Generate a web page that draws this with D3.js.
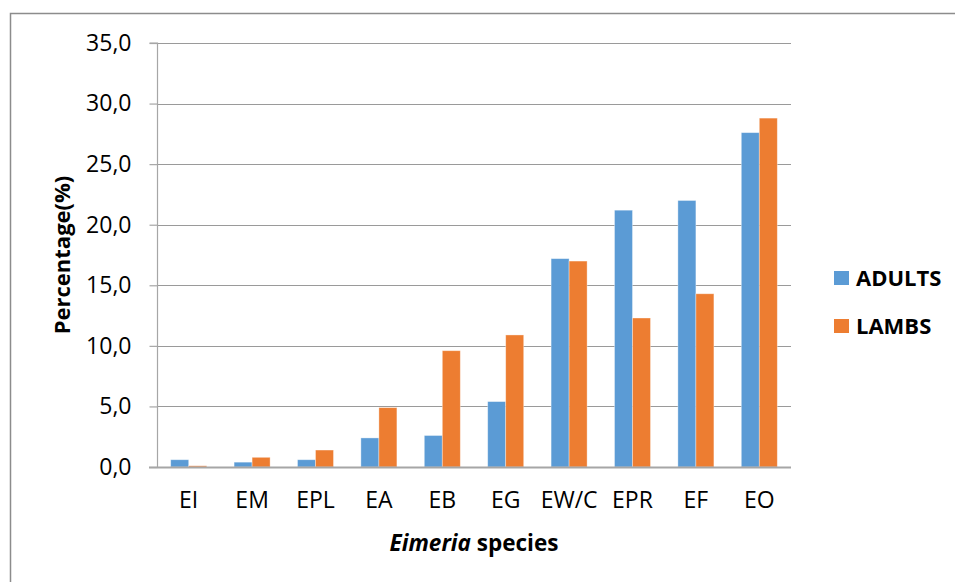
<!DOCTYPE html>
<html>
<head>
<meta charset="utf-8">
<script src="https://cdn.jsdelivr.net/npm/d3@7"></script>
<style>
  html, body { margin: 0; padding: 0; background: #fff; }
  svg { display: block; font-family: "Open Sans", "Noto Sans", sans-serif; }
</style>
</head>
<body>
<svg id="chart" width="955" height="582"></svg>
<script>
// Eimeria species prevalence in adult sheep and lambs (%)
const categories = ["EI", "EM", "EPL", "EA", "EB", "EG", "EW/C", "EPR", "EF", "EO"];
const adults = [0.6, 0.4, 0.6, 2.4, 2.6, 5.4, 17.2, 21.2, 22.0, 27.6];
const lambs  = [0.1, 0.8, 1.4, 4.9, 9.6, 10.9, 17.0, 12.3, 14.3, 28.8];
const seriesNames = ["ADULTS", "LAMBS"];
const seriesColors = ["#5B9BD5", "#ED7D31"];
const yTicks = [0, 5, 10, 15, 20, 25, 30, 35];

const svg = d3.select("#chart");
const W = 955, H = 582;
const plot = { left: 157, right: 791, top: 43, bottom: 467 };

// outer frame (top and left edges visible)
svg.append("path")
  .attr("d", `M10.5,${H} L10.5,13.5 L${W},13.5`)
  .attr("fill", "none")
  .attr("stroke", "#8c8c8c")
  .attr("stroke-width", 1.5);

const x = d3.scaleBand()
  .domain(categories)
  .range([plot.left, plot.right])
  .paddingInner(0.432)
  .paddingOuter(0.216);

const xs = d3.scaleBand()
  .domain(seriesNames)
  .range([0, x.bandwidth()]);

const y = d3.scaleLinear()
  .domain([0, 35])
  .range([plot.bottom, plot.top]);

// horizontal gridlines
svg.append("g")
  .selectAll("line")
  .data(yTicks.filter(t => t > 0))
  .join("line")
  .attr("x1", plot.left)
  .attr("x2", plot.right)
  .attr("y1", d => Math.round(y(d)) + 0.5)
  .attr("y2", d => Math.round(y(d)) + 0.5)
  .attr("stroke", "#9a9a9a")
  .attr("stroke-width", 1.2);

// y axis
const yAxis = d3.axisLeft(y)
  .tickValues(yTicks)
  .tickSize(8)
  .tickPadding(18)
  .tickFormat(d => d3.format(".1f")(d).replace(".", ","));

const gy = svg.append("g")
  .attr("transform", `translate(${plot.left + 0.5},0)`)
  .call(yAxis);
gy.select(".domain").attr("stroke", "#a6a6a6").attr("stroke-width", 1.2)
  .attr("d", `M-8,${plot.top}H0V${plot.bottom}`);
gy.selectAll(".tick line").attr("stroke", "#a6a6a6").attr("stroke-width", 1.2);
gy.selectAll(".tick text")
  .attr("fill", "#000")
  .attr("font-size", 23)
  .attr("font-family", "'Open Sans', sans-serif");

// bars
const data = categories.map((c, i) => ({ cat: c, vals: [adults[i], lambs[i]] }));
const groups = svg.append("g")
  .selectAll("g")
  .data(data)
  .join("g")
  .attr("transform", d => `translate(${x(d.cat)},0)`);

groups.selectAll("rect")
  .data(d => d.vals.map((v, j) => ({ v, s: seriesNames[j], color: seriesColors[j] })))
  .join("rect")
  .attr("x", d => xs(d.s))
  .attr("width", xs.bandwidth())
  .attr("y", d => y(d.v))
  .attr("height", d => y(0) - y(d.v))
  .attr("fill", d => d.color)
  .attr("stroke", "#ffffff")
  .attr("stroke-opacity", 0.45)
  .attr("stroke-width", 0.8);

// x axis
const xAxis = d3.axisBottom(x).tickSize(0).tickPadding(24);
const gx = svg.append("g")
  .attr("transform", `translate(0,${plot.bottom + 0.5})`)
  .call(xAxis);
gx.select(".domain")
  .attr("stroke", "#a6a6a6")
  .attr("stroke-width", 2)
  .attr("d", `M${plot.left - 8},0H${plot.right}`);
gx.selectAll(".tick text")
  .attr("fill", "#000")
  .attr("font-size", 23)
  .attr("font-family", "'Open Sans', sans-serif");

// axis titles
svg.append("text")
  .attr("transform", `translate(70,255) rotate(-90)`)
  .attr("text-anchor", "middle")
  .attr("font-size", 22)
  .attr("font-weight", "bold")
  .text("Percentage(%)");

const xt = svg.append("text")
  .attr("x", 474)
  .attr("y", 551)
  .attr("text-anchor", "middle")
  .attr("font-size", 22.5)
  .attr("font-weight", "bold");
xt.append("tspan").attr("font-style", "italic").text("Eimeria");
xt.append("tspan").text(" species");

// legend
const legend = svg.append("g")
  .selectAll("g")
  .data(seriesNames)
  .join("g")
  .attr("transform", (d, i) => `translate(834,${271 + i * 48})`);
legend.append("rect")
  .attr("width", 15)
  .attr("height", 14)
  .attr("fill", (d, i) => seriesColors[i]);
legend.append("text")
  .attr("x", 22)
  .attr("y", 15)
  .attr("font-size", 22)
  .attr("font-weight", "bold")
  .text(d => d);
</script>
</body>
</html>
